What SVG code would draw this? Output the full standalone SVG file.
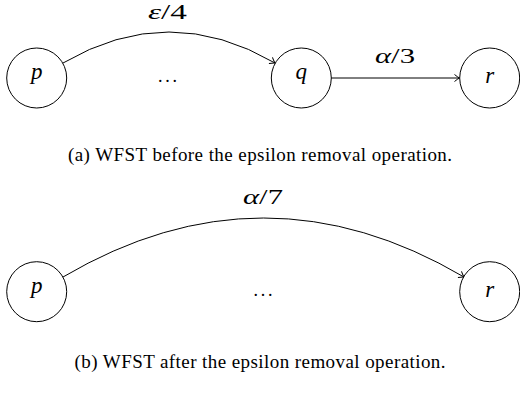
<svg xmlns="http://www.w3.org/2000/svg" width="520" height="394" viewBox="0 0 520 394">
<defs>
<style>
.st{fill:#fff;stroke:#000;stroke-width:1}
.e{fill:none;stroke:#000;stroke-width:1}
.m{font-family:"Liberation Serif","Times New Roman",serif;font-style:italic;font-size:23px;text-anchor:middle}
.n{font-family:"Liberation Serif","Times New Roman",serif;font-size:20px;text-anchor:middle}
.d{font-family:"Liberation Serif","Times New Roman",serif;font-size:18px;text-anchor:middle}
.cap{font-family:"Liberation Serif","Times New Roman",serif;font-size:19px;text-anchor:middle}
</style>
<marker id="ar" markerWidth="10" markerHeight="10" refX="7" refY="5" orient="auto" markerUnits="userSpaceOnUse">
<path d="M2,1.5 Q5,4 7,5 Q5,6 2,8.5" fill="none" stroke="#000" stroke-width="1"/>
</marker>
</defs>
<g id="connectors">
<path class="e" d="M63,63 Q169,1 275,63" marker-end="url(#ar)"/>
<line class="e" x1="331" y1="78" x2="459.5" y2="78" marker-end="url(#ar)"/>
<path class="e" d="M63,277 Q263.5,159 464,277" marker-end="url(#ar)"/>
<text class="n" x="167.5" y="18.5" textLength="39" lengthAdjust="spacingAndGlyphs"><tspan font-style="italic">ε</tspan>/4</text>
<text class="n" x="395" y="62.5" textLength="40" lengthAdjust="spacingAndGlyphs"><tspan font-style="italic">α</tspan>/3</text>
<text class="n" x="263" y="203.5" textLength="40" lengthAdjust="spacingAndGlyphs"><tspan font-style="italic">α</tspan>/7</text>
</g>
<g id="a_p"><circle class="st" cx="36.7" cy="78" r="30"/><text class="m" x="36.7" y="79">p</text></g>
<g id="a_dots"><text class="d" x="167.5" y="82" textLength="19" lengthAdjust="spacing">...</text></g>
<g id="a_q"><circle class="st" cx="301.3" cy="78" r="30"/><text class="m" x="301.3" y="79">q</text></g>
<g id="a_r"><circle class="st" cx="489.7" cy="78" r="30"/><text class="m" x="489.7" y="83">r</text></g>
<text class="cap" x="260" y="161" textLength="384" lengthAdjust="spacing">(a) WFST before the epsilon removal operation.</text>
<g id="b_p"><circle class="st" cx="36.7" cy="291.7" r="30"/><text class="m" x="36.7" y="292.7">p</text></g>
<g id="b_dots"><text class="d" x="263" y="295.7" textLength="19" lengthAdjust="spacing">...</text></g>
<g id="b_r"><circle class="st" cx="489.7" cy="291.7" r="30"/><text class="m" x="489.7" y="296.7">r</text></g>
<text class="cap" x="260" y="368" textLength="371" lengthAdjust="spacing">(b) WFST after the epsilon removal operation.</text>
</svg>
